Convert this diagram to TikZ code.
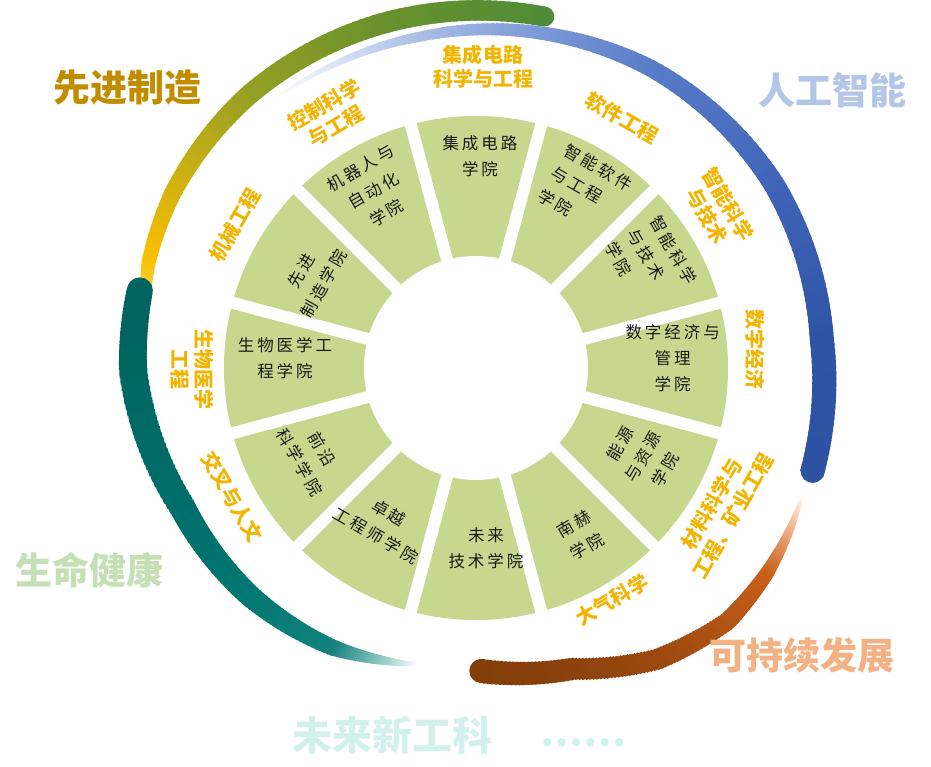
\documentclass[tikz,border=0pt]{standalone}
\usepackage{fontspec}
\newfontfamily\cjk{Noto Sans CJK SC}
\newfontfamily\cjkin[LetterSpace=18]{Noto Sans CJK SC}
\definecolor{segc}{RGB}{200,215,142}
\definecolor{labc}{RGB}{242,180,0}
\definecolor{g0}{RGB}{80,140,55}
\definecolor{g1}{RGB}{105,145,45}
\definecolor{g2}{RGB}{150,160,35}
\definecolor{g3}{RGB}{215,180,15}
\definecolor{g4}{RGB}{250,192,0}
\definecolor{g5}{RGB}{253,220,120}
\definecolor{b1}{RGB}{220,228,245}
\definecolor{b2}{RGB}{170,190,230}
\definecolor{b3}{RGB}{125,155,215}
\definecolor{b4}{RGB}{90,125,200}
\definecolor{b5}{RGB}{65,100,185}
\definecolor{b6}{RGB}{47,84,165}
\definecolor{b7}{RGB}{45,82,162}
\definecolor{t0}{RGB}{0,100,95}
\definecolor{t1}{RGB}{0,102,96}
\definecolor{t2}{RGB}{0,110,104}
\definecolor{t3}{RGB}{0,120,115}
\definecolor{t4}{RGB}{20,130,125}
\definecolor{t5}{RGB}{140,200,196}
\definecolor{o1}{RGB}{240,180,140}
\definecolor{o2}{RGB}{200,95,25}
\definecolor{o3}{RGB}{180,85,20}
\definecolor{o4}{RGB}{155,72,15}
\definecolor{o5}{RGB}{140,66,12}
\definecolor{o6}{RGB}{132,62,10}
\definecolor{catgold}{RGB}{193,140,0}
\definecolor{catblue}{RGB}{180,198,231}
\definecolor{catgreen}{RGB}{197,224,180}
\definecolor{catorange}{RGB}{244,177,131}
\definecolor{catcyan}{RGB}{210,240,236}
\newcommand{\bandseg}[8]{%
  \foreach \k in {0,...,23}{%
    \pgfmathsetmacro{\ta}{#1+(#2-#1)*\k/24}%
    \pgfmathsetmacro{\tb}{#1+(#2-#1)*(\k+1.6)/24}%
    \pgfmathsetmacro{\rr}{#3+(#4-#3)*(\k+0.5)/24}%
    \pgfmathsetmacro{\ww}{#5+(#6-#5)*(\k+0.5)/24}%
    \pgfmathtruncatemacro{\pp}{100-100*(\k+0.5)/24}%
    \draw[line width=\ww pt, color=#7!\pp!#8] (\ta:\rr) arc[start angle=\ta, end angle=\tb, radius=\rr];
  }}
\tikzset{
  inner/.style={font=\cjkin\fontsize{16.5}{26}\selectfont, text=black!90, align=center, inner sep=0pt},
  lab/.style={font=\cjk\bfseries\fontsize{20}{24}\selectfont, text=labc, align=center, inner sep=0pt},
  cat/.style={font=\cjk\bfseries\fontsize{37}{40}\selectfont, inner sep=0pt}
}
\begin{document}
\begin{tikzpicture}[x=1pt,y=1pt]
\useasboundingbox (-476,-399) rectangle (455,368);
% wheel
\fill[segc] (0,0) circle[radius=252];
\foreach \a in {15,45,...,345} \draw[white, line width=12pt] (0,0) -- (\a:262);
\fill[white] (0,0) circle[radius=112];
% green-gold band
\bandseg{79}{105}{358}{357}{20}{21}{g0}{g1}
\bandseg{105}{130}{357}{355}{21}{20}{g1}{g2}
\bandseg{130}{150}{355}{350}{20}{17}{g2}{g3}
\bandseg{150}{162}{350}{344}{17}{14}{g3}{g4}
\bandseg{162}{170}{344}{336}{14}{9}{g4}{g5}
\bandseg{170}{176}{336}{328}{9}{3}{g5}{white}
\fill[g0] (79:358) circle[radius=10];
% blue band
\bandseg{127}{115}{336}{335}{2}{6}{white}{b1}
\bandseg{115}{100}{335}{336}{6}{10}{b1}{b2}
\bandseg{100}{80}{336}{341}{10}{13}{b2}{b3}
\bandseg{80}{60}{341}{347}{13}{17}{b3}{b4}
\bandseg{60}{32}{347}{350}{17}{21}{b4}{b5}
\bandseg{32}{5}{350}{347}{21}{24}{b5}{b6}
\bandseg{5}{-17}{347}{352}{24}{24}{b6}{b7}
\fill[b7] (-17:352) circle[radius=12];
% teal band
\bandseg{167}{180}{345}{343}{26}{28}{t0}{t1}
\bandseg{180}{205}{343}{325}{28}{26}{t1}{t2}
\bandseg{205}{225}{325}{321}{26}{22}{t2}{t3}
\bandseg{225}{243}{321}{314}{22}{16}{t3}{t4}
\bandseg{243}{252}{314}{307}{16}{9}{t4}{t5}
\bandseg{252}{259}{307}{302}{9}{3}{t5}{white}
\fill[t0] (167:345) circle[radius=13];
% brown band
\bandseg{-21}{-27}{350}{353}{2}{8}{white}{o1}
\bandseg{-27}{-35}{353}{356}{8}{14}{o1}{o2}
\bandseg{-35}{-45}{356}{357}{14}{18}{o2}{o3}
\bandseg{-45}{-58}{357}{343}{18}{21}{o3}{o4}
\bandseg{-58}{-72}{343}{316}{21}{22}{o4}{o5}
\bandseg{-72}{-89}{316}{303}{22}{24}{o5}{o6}
\fill[o6] (-89:303) circle[radius=12];
% inner texts
\node[inner] (s1) at (4,212) {集成电路\\学院};
\node[inner, rotate=-30, align=left] (s2) at (58.5:209) {智能软件\\与工程\\学院};
\node[inner, rotate=-60, align=left] (s3) at (31:204) {智能科学\\与技术\\学院};
\node[inner] (s4) at (3:197) {数字经济与\\管理\\学院};
\node[inner, rotate=60] (s5) at (-28:189) {能源\\与资源\\学院};
\node[inner, rotate=30] (s6) at (-58:197) {南赫\\学院};
\node[inner] (s7) at (10,-180) {未来\\技术学院};
\node[inner, rotate=-30] (s8) at (-121:182) {卓越\\工程师学院};
\node[inner, rotate=-60] (s9) at (-152:187) {前沿\\科学学院};
\node[inner] (s10) at (-191,10) {生物医学工\\程学院};
\node[inner, rotate=60] (s11) at (151:187) {先进\\制造学院};
\node[inner, rotate=30] (s12) at (120:205) {机器人与\\自动化\\学院};
% discipline labels
\node[lab] (l1) at (7,301) {集成电路\\科学与工程};
\node[lab, rotate=-30] (l2) at (146,250) {软件工程};
\node[lab, rotate=-60] (l3) at (242,158) {智能科学\\与技术};
\node[lab, rotate=-90] (l4) at (279,18) {数字经济};
\node[lab, rotate=60] (l5) at (246,-142) {材料科学与\\工程、矿业工程};
\node[lab, rotate=30] (l6) at (136,-232) {大气科学};
\node[lab, rotate=-60] (l7) at (-244,-129) {交叉与人文};
\node[lab, rotate=-90] (l8) at (-284,-2) {生物医学\\工程};
\node[lab, rotate=60] (l9) at (-241,143) {机械工程};
\node[lab, rotate=30] (l10) at (-146,253) {控制科学\\与工程};
% category labels
\node[cat, text=catgold] (c1) at (-348,280) {先进制造};
\node[cat, text=catblue] (c2) at (356,278) {人工智能};
\node[cat, text=catgreen] (c3) at (-386,-202) {生命健康};
\node[cat, text=catorange] (c4) at (326,-287) {可持续发展};
\node[cat, text=catcyan, font=\cjk\bfseries\fontsize{40}{44}\selectfont] (c5) at (-83,-367) {未来新工科};
\node[cat, text=catcyan, font=\cjk\bfseries\fontsize{38}{40}\selectfont] (c6) at (107,-375) {……};
\end{tikzpicture}
\end{document}
